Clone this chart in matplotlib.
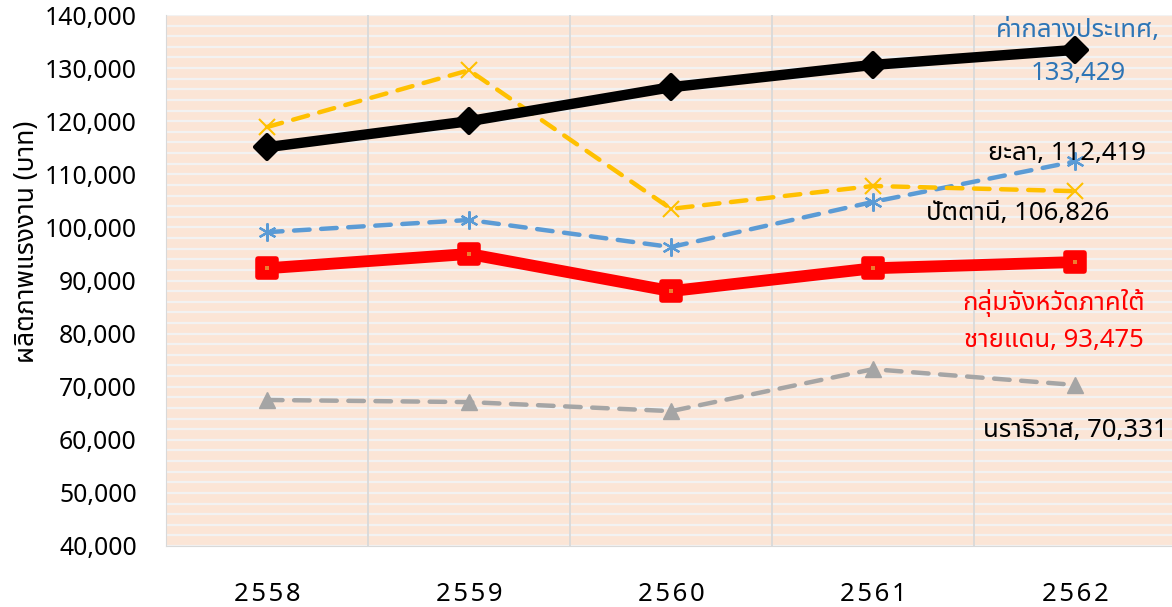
import matplotlib
matplotlib.use("Agg")
import matplotlib.pyplot as plt
from matplotlib import font_manager
from matplotlib.markers import MarkerStyle
from matplotlib.ticker import FuncFormatter, MultipleLocator

# pick a font that has Thai glyphs
available = {f.name for f in font_manager.fontManager.ttflist}
thai = next((n for n in ["Noto Sans Thai", "Noto Sans Thai UI", "Sarabun", "Loma", "Anuphan"]
             if n in available), "Loma")
FONTS = [thai, "Noto Sans", "DejaVu Sans"]
LATIN = ["Noto Sans", "DejaVu Sans"]
plt.rcParams["font.family"] = FONTS

# Data
years = ["2558", "2559", "2560", "2561", "2562"]
national = [115100, 120000, 126400, 130600, 133429]
pattani = [118900, 129600, 103500, 107800, 106826]
yala = [99100, 101400, 96300, 104800, 112419]
border = [92300, 95000, 88000, 92300, 93475]
narathiwat = [67500, 67100, 65400, 73300, 70331]

x = list(range(len(years)))

fig = plt.figure(figsize=(11.72, 6.07), dpi=100)
ax = fig.add_axes([166 / 1172, 1 - 546 / 607, 1010 / 1172, 531 / 607])
ax.set_facecolor("#FBE5D6")

# dashed provinces
dash = dict(lw=3.2, dashes=(3.5, 2.6), dash_capstyle="round", zorder=3)
ax.plot(x, narathiwat, color="#A5A5A5", marker="^", ms=11, **dash)
ax.plot(x, yala, color="#5B9BD5", marker=(6, 2, 0), ms=13, mew=1.6, **dash)
ax.plot(x, pattani, color="#FFC000", marker="x", ms=12, mew=1.5, **dash)

# national median and border provinces
ax.plot(x, national, color="black", lw=7.5, solid_joinstyle="round",
        marker=MarkerStyle("D", joinstyle="round"), ms=12, mew=3, zorder=4)
ax.plot(x, border, color="#FF0000", lw=8.5, solid_joinstyle="round",
        marker=MarkerStyle("s", joinstyle="round"), ms=13, mew=4, zorder=5)
ax.plot(x, border, ls="none", marker="s", ms=2.5, color="#ED7D31", mew=0, zorder=6)

# labels at the last point
lab = dict(textcoords="offset pixels", ha="center", va="center", fontsize=18.5, zorder=7)
ax.annotate("ค่ากลางประเทศ,\n{:,}".format(national[-1]), (x[-1], national[-1]),
            xytext=(3, -2), color="#2E75B6", linespacing=1.95, **lab)
ax.annotate("ยะลา, {:,}".format(yala[-1]), (x[-1], yala[-1]), xytext=(-8, 8),
            color="black", **lab)
ax.annotate("ปัตตานี, {:,}".format(pattani[-1]), (x[-1], pattani[-1]), xytext=(-57, -22),
            color="black", **lab)
ax.annotate("กลุ่มจังหวัดภาคใต้\nชายแดน, {:,}".format(border[-1]), (x[-1], border[-1]),
            xytext=(-21, -59), color="#FF0000", linespacing=1.55, **lab)
ax.annotate("นราธิวาส, {:,}".format(narathiwat[-1]), (x[-1], narathiwat[-1]),
            xytext=(0, -46), color="black", **lab)

# axes
ax.set_xlim(-0.5, 4.5)
ax.set_ylim(40000, 140000)
ax.yaxis.set_major_locator(MultipleLocator(10000))
ax.yaxis.set_minor_locator(MultipleLocator(2000))
ax.yaxis.set_major_formatter(FuncFormatter(lambda v, p: "{:,.0f}".format(v)))
ax.set_xticks(x)
ax.set_xticklabels(["\u200a".join(y) for y in years])

ax.grid(True, which="both", axis="y", color="#F2F2F2", lw=1.6, zorder=1)
for i in x[:-1]:
    ax.axvline(i + 0.5, color="#D9D9D9", lw=1.3, zorder=1.5)
ax.set_axisbelow(True)
ax.tick_params(axis="both", which="both", length=0)
ax.tick_params(axis="y", labelsize=17.8, pad=21)
ax.tick_params(axis="x", labelsize=18.5, pad=26)
for t in ax.get_xticklabels() + ax.get_yticklabels():
    t.set_fontfamily(LATIN)
for s in ax.spines.values():
    s.set_visible(False)
ax.spines["left"].set_visible(True)
ax.spines["bottom"].set_visible(True)
ax.spines["left"].set_color("#D9D9D9")
ax.spines["bottom"].set_color("#D9D9D9")

fig.text(27 / 1172, 1 - 242 / 607, "ผลิตภาพแรงงาน (บาท)", rotation=90, ha="center",
         va="center", fontsize=19)

fig.savefig("out.png", dpi=100)
